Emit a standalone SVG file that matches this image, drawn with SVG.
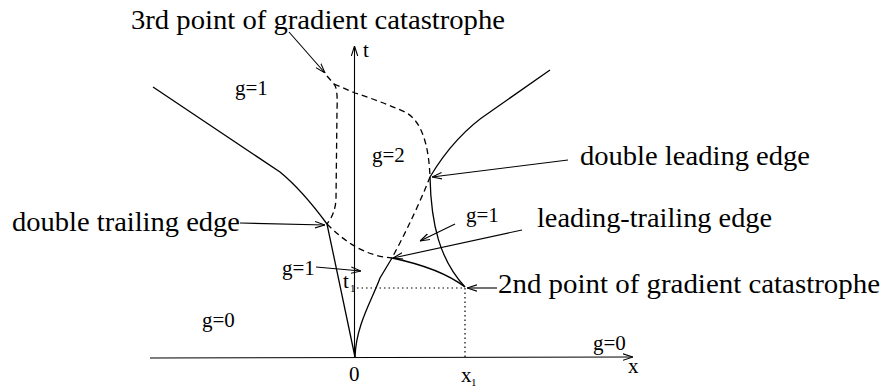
<svg xmlns="http://www.w3.org/2000/svg" width="887" height="390" viewBox="0 0 887 390">
<defs>
<style>
.ln{fill:none;stroke:#000;stroke-width:1.3}
.ds{fill:none;stroke:#000;stroke-width:1.3;stroke-dasharray:6 4}
.dt{fill:none;stroke:#000;stroke-width:1.2;stroke-dasharray:1.5 3}
.ar{fill:none;stroke:#000;stroke-width:1.1;marker-end:url(#ah)}
.big{font-family:"Liberation Serif","Times New Roman",serif;font-size:28px;fill:#000}
.lab{font-family:"Liberation Serif","Times New Roman",serif;font-size:21px;fill:#000}
.sub{font-family:"Liberation Serif","Times New Roman",serif;font-size:11px;fill:#000}
</style>
<marker id="ah" viewBox="0 0 10 8" refX="10" refY="4" markerWidth="10" markerHeight="8" markerUnits="userSpaceOnUse" orient="auto">
<path d="M0,0.8 L10,4 L0,7.2" fill="none" stroke="#000" stroke-width="1.1"/>
</marker>
</defs>
<rect width="887" height="390" fill="#fff"/>
<g id="axes">
<path class="ar" d="M354.5,357 L354.5,46"/>
<path class="ar" d="M150,358 L633,357"/>
<text class="lab" x="363" y="57">t</text>
<text class="lab" x="628" y="373">x</text>
<text class="lab" x="349" y="381">0</text>
<text class="lab" x="461" y="382">x</text><text class="sub" x="471" y="386">1</text>
<text class="lab" x="343" y="288">t</text><text class="sub" x="350" y="292">1</text>
<path class="dt" d="M357,288 L465,288 L465,357"/>
</g>
<g id="curves">
<path class="ln" d="M153,87 L280,172 Q302,190 327,224 L355,357"/>
<path class="ds" d="M327,76 L334,84 Q338,88 337,110 L336,200 Q335,214 327,224"/>
<path class="ds" d="M334,84 L355,93 Q380,101 405,112 Q428,124 430,177"/>
<path class="ds" d="M430,177 Q415,215 392,258"/>
<path class="ds" d="M327,224 C345,242 365,256 392,258"/>
<path class="ln" d="M355,357 C356,325 372,300 380,278 L392,258"/>
<path class="ln" d="M392,258 Q440,268 465,287"/>
<path class="ln" d="M430,177 C431,225 440,260 465,287"/>
<path class="ln" d="M430,177 Q455,135 490,112 L550,70"/>
</g>
<g id="connectors">
<path class="ar" d="M289,32 L325,73"/>
<path class="ar" d="M568,160 L432,177"/>
<path class="ar" d="M240,223 L325,225"/>
<path class="ar" d="M522,230 L393,258"/>
<path class="ar" d="M455,224 L420,241"/>
<path class="ar" d="M316,267 L361,271"/>
<path class="ar" d="M497,288 L467,288"/>
</g>
<g id="labels">
<text class="big" x="131" y="29" textLength="374" lengthAdjust="spacingAndGlyphs">3rd point of gradient catastrophe</text>
<text class="big" x="580" y="165" textLength="230" lengthAdjust="spacingAndGlyphs">double leading edge</text>
<text class="big" x="12" y="231" textLength="228" lengthAdjust="spacingAndGlyphs">double trailing edge</text>
<text class="big" x="537" y="227" textLength="235" lengthAdjust="spacingAndGlyphs">leading-trailing edge</text>
<text class="big" x="498" y="293" textLength="382" lengthAdjust="spacingAndGlyphs">2nd point of gradient catastrophe</text>
<text class="lab" x="235" y="95">g=1</text>
<text class="lab" x="372" y="162">g=2</text>
<text class="lab" x="466" y="222">g=1</text>
<text class="lab" x="282" y="275">g=1</text>
<text class="lab" x="202" y="327">g=0</text>
<text class="lab" x="593" y="350">g=0</text>
</g>
</svg>
